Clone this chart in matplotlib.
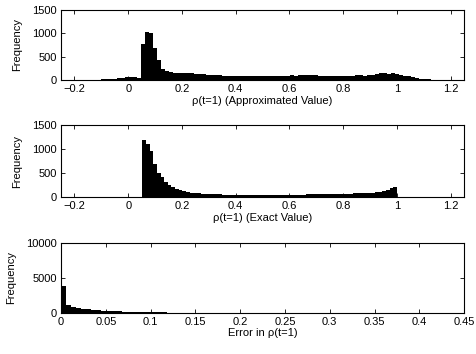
import numpy as np
import matplotlib
matplotlib.use("Agg")
import matplotlib.pyplot as plt

plt.rcParams['font.family'] = ['Liberation Sans', 'DejaVu Sans']
plt.rcParams['font.size'] = 8

# histogram 1: rho(t=1) approximated value
approx_start, approx_width = -0.207, 0.015
approx_counts = [5, 5, 6, 7, 8, 9, 10, 12, 15, 20, 30, 40, 50, 60, 68, 62, 45,
                 770, 1030, 1000, 690, 420, 240, 185, 165, 160, 155, 150, 145,
                 140, 130, 125, 120, 110, 105, 100, 100, 95, 95, 90, 90, 85, 85,
                 85, 80, 80, 80, 80, 80, 85, 80, 85, 85, 90, 100, 95, 105, 115,
                 115, 105, 100, 95, 90, 85, 80, 80, 75, 75, 80, 90, 100, 100, 95,
                 100, 110, 125, 140, 145, 135, 140, 120, 100, 90, 75, 55, 40, 25,
                 18, 12, 8, 6, 5, 4, 3, 2]

# histogram 2: rho(t=1) exact value
exact_start, exact_width = 0.0527, 0.01353
exact_counts = [1190, 1100, 960, 700, 500, 420, 310, 260, 220, 180, 150, 120,
                100, 95, 85, 80, 75, 70, 65, 62, 60, 58, 55, 55, 52, 50, 50, 48,
                48, 47, 46, 46, 45, 45, 45, 46, 46, 47, 48, 50, 50, 52, 52, 54,
                55, 56, 58, 60, 60, 62, 63, 65, 66, 68, 70, 72, 74, 76, 78, 80,
                82, 85, 88, 92, 100, 115, 135, 160, 190, 210]

# histogram 3: error
err_start, err_width = 0.0, 0.005625
err_counts = [3900, 1150, 900, 720, 600, 500, 420, 360, 310, 270, 240, 210,
              185, 165, 145, 130, 115, 100, 90, 80, 70, 62, 55, 48, 42, 37, 33,
              29, 26, 23, 20, 18, 16, 14, 12, 11, 10, 9, 8, 7, 6, 5, 5, 4, 4, 3,
              3, 3, 2, 2, 2, 2, 1, 1, 1, 1, 1, 1, 1, 1, 1, 1, 1, 1, 1, 1, 1, 1,
              1, 1, 1, 1, 1, 1, 1, 1, 1, 1, 1, 1]

panels = [
    (approx_start, approx_width, approx_counts, "\u03c1(t=1) (Approximated Value)",
     (-0.25, 1.25), np.arange(-0.2, 1.21, 0.2), (0, 1500), [0, 500, 1000, 1500]),
    (exact_start, exact_width, exact_counts, "\u03c1(t=1) (Exact Value)",
     (-0.25, 1.25), np.arange(-0.2, 1.21, 0.2), (0, 1500), [0, 500, 1000, 1500]),
    (err_start, err_width, err_counts, "Error in \u03c1(t=1)",
     (0, 0.45), np.arange(0, 0.451, 0.05), (0, 10000), [0, 5000, 10000]),
]
boxes = [[0.128, 0.774, 0.845, 0.198],
         [0.128, 0.443, 0.845, 0.203],
         [0.128, 0.116, 0.845, 0.198]]

fig = plt.figure(figsize=(4.77, 3.54), dpi=100)
for box, (start, width, counts, xlabel, xlim, xticks, ylim, yticks) in zip(boxes, panels):
    ax = fig.add_axes(box)
    edges = start + width * np.arange(len(counts) + 1)
    ax.stairs(counts, edges, fill=True, color='black', linewidth=0)
    ax.set_xlim(*xlim)
    ax.set_ylim(*ylim)
    ax.set_xticks(xticks)
    ax.set_xticklabels([('%g' % round(t, 2)).replace('-', '\u2212') for t in xticks])
    ax.set_yticks(yticks)
    ax.tick_params(direction='in', top=True, right=True, length=3, width=0.6,
                   labelsize=8, pad=3)
    for s in ax.spines.values():
        s.set_linewidth(0.8)
    ax.set_xlabel(xlabel, labelpad=1)
    ax.set_ylabel("Frequency", labelpad=7)

fig.savefig("out.png", dpi=100)
